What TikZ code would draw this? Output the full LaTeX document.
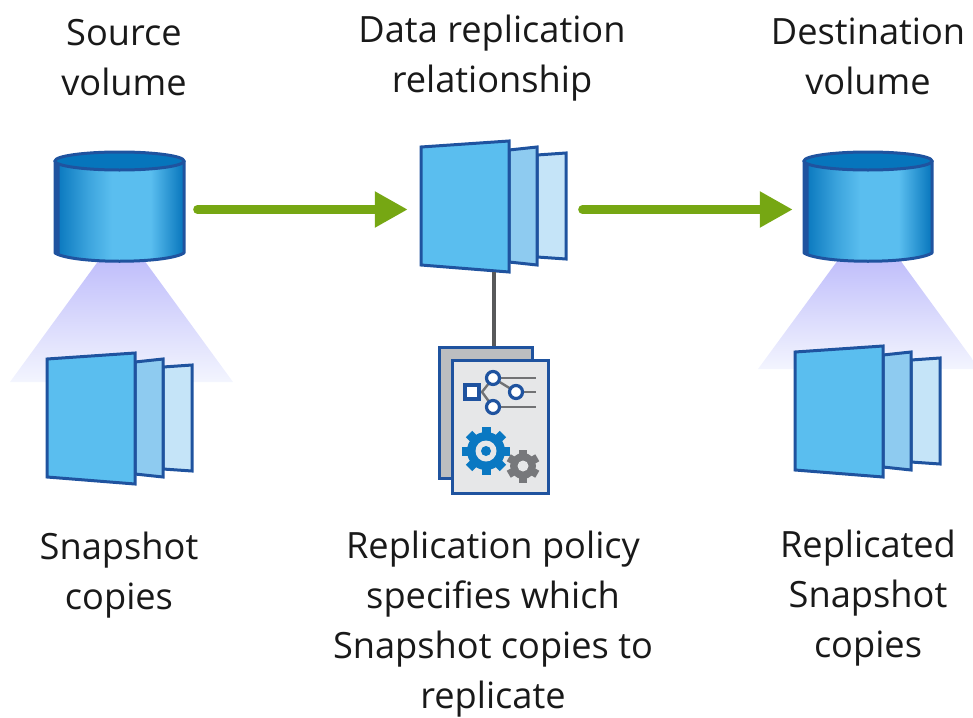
\documentclass[tikz,border=0pt]{standalone}
\usepackage{fontspec}
\setmainfont{Open Sans}
\usetikzlibrary{arrows.meta}
\definecolor{edgeblue}{HTML}{1F539F}
\definecolor{pageA}{HTML}{5ABEEF}
\definecolor{pageB}{HTML}{8ECBF0}
\definecolor{pageC}{HTML}{C5E4F8}
\definecolor{cyltop}{HTML}{0675BC}
\definecolor{flowgreen}{HTML}{76A713}
\definecolor{linkgray}{HTML}{58595B}
\definecolor{gearblue}{HTML}{0A78C2}
\definecolor{geargray}{HTML}{77787B}
\definecolor{beamtop}{HTML}{C0BEFB}
\definecolor{beambottom}{HTML}{F3F5FE}
\definecolor{docback}{HTML}{BCBEC0}
\definecolor{docfront}{HTML}{E6E7E8}
\pgfdeclarehorizontalshading{cylshade}{100bp}{
  color(0bp)=(cyltop);
  color(25bp)=(cyltop);
  color(38bp)=(pageA!65!cyltop);
  color(47bp)=(pageA);
  color(62bp)=(pageA);
  color(75bp)=(cyltop);
  color(100bp)=(cyltop)}
\tikzset{
  label text/.style={align=center,font=\fontsize{36.2}{50}\selectfont,text=black!90,inner sep=0pt},
  page edge/.style={draw=edgeblue,line width=3pt,line join=miter},
  anchor box/.style={inner sep=0pt,minimum width=#1},
  flow/.style={draw=flowgreen,line width=8.5pt,line cap=round,-{Triangle[length=33pt,width=34pt]}},
  thin gray/.style={draw=linkgray!85,line width=2.4pt},
  tree dot/.style={draw=edgeblue,line width=3.2pt,fill=white}
}
% page stack, given the offset from the stack in the middle of the picture
\newcommand{\pagestack}[2]{%
  \begin{scope}[shift={(#1,#2)}]
    \path[page edge,fill=pageC] (537,155) -- (566,153) -- (566,259) -- (537,257) -- cycle;
    \path[page edge,fill=pageB] (509,150) -- (537,147) -- (537,265) -- (509,262) -- cycle;
    \path[page edge,fill=pageA] (421,147) -- (509,141) -- (509,272) -- (421,265) -- cycle;
  \end{scope}}
% cylinder: left x, right x
\newcommand{\volumecyl}[2]{%
  \path[shading=cylshade] (#1,161) -- (#2,161) -- (#2,253)
    .. controls (#2-18,264) and (#1+18,264) .. (#1,253) -- cycle;
  \fill[edgeblue] (#1,161) -- (#1+4.5,165) -- (#1+4.5,255.5) -- (#1,253) -- cycle;
  \draw[edgeblue,line width=3pt,line join=round] (#1,161) -- (#1,253)
    .. controls (#1+18,264) and (#2-18,264) .. (#2,253) -- (#2,161);
  \draw[edgeblue,line width=3pt,fill=cyltop] ({(#1+#2)/2},161) ellipse ({(#2-#1)/2} and 9);
}
% gear: x, y, body radius, tooth length, tooth width, teeth, colour
\newcommand{\geardraw}[7]{%
  \fill[#7] (#1,#2) circle (#3);
  \foreach \gearstep in {1,...,#6}{
    \fill[#7,rotate around={\gearstep*360/#6:(#1,#2)}]
      (#1-#5/2,#2-#3+1) rectangle (#1+#5/2,#2-#3-#4);
  }}
\begin{document}
\begin{tikzpicture}[x=1pt,y=-1pt]
\useasboundingbox (0,0) rectangle (973,717);

% light beams
\path[top color=beamtop,bottom color=beambottom] (99,260) -- (144,260) -- (233,382) -- (10,382) -- cycle;
\path[top color=beamtop,bottom color=beambottom] (838,260) -- (900,260) -- (973,360) -- (973,369) -- (758,369) -- cycle;

% anchors for connectors
\node[anchor box=129pt,minimum height=104pt] (srcvol) at (119.5,209.5) {};
\node[anchor box=128pt,minimum height=104pt] (dstvol) at (868,209.5) {};
\node[anchor box=145pt,minimum height=131pt] (relation) at (493.5,206.5) {};
\node[anchor box=109pt,minimum height=146pt] (policy) at (493.5,420) {};

\volumecyl{55}{184}
\volumecyl{804}{932}
\pagestack{-374}{212}
\pagestack{0}{0}
\pagestack{374}{205}

% connectors
\draw[flow,shorten <=13.2pt,shorten >=13pt] (srcvol.east) -- (relation.west |- srcvol.east);
\draw[flow,shorten <=16.2pt,shorten >=11pt] (relation.east |- dstvol.west) -- (dstvol.west);
\draw[linkgray,line width=4pt] (relation.south) -- (policy.north);

% policy document
\path[page edge,fill=docback] (439,347) rectangle (532,478);
\path[page edge,fill=docfront] (452,360) rectangle (548,493);
\draw[thin gray] (493,378) -- (536,378) (516,392) -- (536,392) (493,407) -- (536,407);
\draw[thin gray] (472,392) -- (482,392) -- (493,378) (482,392) -- (493,407) (493,378) -- (516,392);
\path[tree dot] (465,385) rectangle (479,399);
\path[tree dot] (493,378) circle (6.5);
\path[tree dot] (516,392) circle (6.5);
\path[tree dot] (493,407) circle (6.5);
\geardraw{486}{451}{19}{5}{9}{8}{gearblue}
\fill[docfront] (486,451) circle (10.5);
\fill[gearblue] (486,451) circle (5);
\geardraw{523}{466}{13}{3.5}{8}{6}{geargray}
\fill[docfront] (523,466) circle (5.5);

% labels
\node[label text] (lsrc) at (124,57.5) {Source\\volume};
\node[label text] (lrel) at (492,58) {Data replication\\relationship};
\node[label text] (ldst) at (868,56) {Destination\\volume};
\node[label text] (lsnap) at (119,575) {Snapshot\\copies};
\node[label text] (lpol) at (493,624.5) {Replication policy\\specifies which\\Snapshot copies to\\replicate};
\node[label text] (lrep) at (868,598) {Replicated\\Snapshot\\copies};
\end{tikzpicture}
\end{document}
